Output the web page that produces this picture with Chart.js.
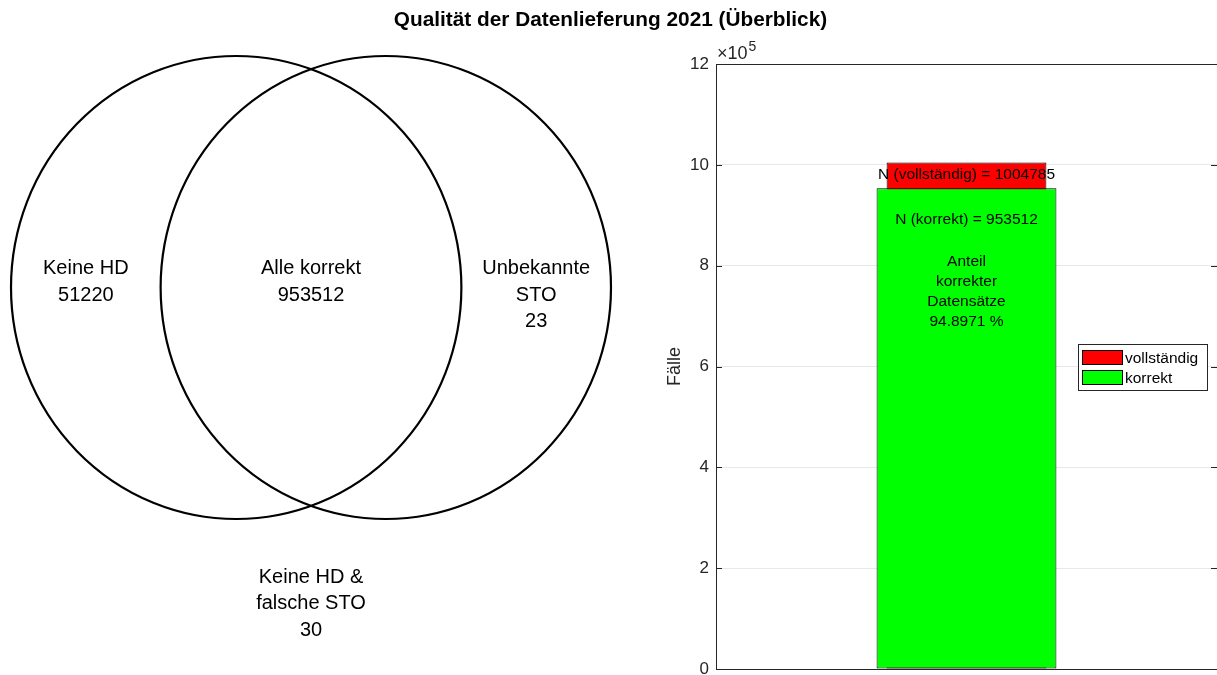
<!DOCTYPE html>
<html>
<head>
<meta charset="utf-8">
<script src="https://cdn.jsdelivr.net/npm/chart.js@4.4.1/dist/chart.umd.min.js"></script>
<style>
  html, body { margin: 0; padding: 0; background: #fff; width: 1217px; height: 675px; overflow: hidden; }
  #title { position: absolute; left: 0; top: 9px; width: 1221px; text-align: center;
           font: bold 20.8px "Liberation Sans", Arial, sans-serif; line-height: 20px; color: #000; }
  #venn { position: absolute; left: 0; top: 0; }
  #bars { position: absolute; left: 620px; top: 0; }
</style>
</head>
<body>
<canvas id="venn" width="622" height="675"></canvas>
<canvas id="bars" width="597" height="675"></canvas>
<div id="title">Qualität der Datenlieferung 2021 (Überblick)</div>
<script>
// ---- data ----
const vennRegions = ['Keine HD', 'Alle korrekt', 'Unbekannte\nSTO', 'Keine HD &\nfalsche STO'];
const vennCounts = [51220, 953512, 23, 30];

const barCategories = [''];
const seriesNames = ['vollständig', 'korrekt'];
const nVollstaendig = [1004785];
const nKorrekt = [953512];
const yTickValues = [0, 200000, 400000, 600000, 800000, 1000000, 1200000];
const yExponent = 5;

// ---- layout of the Venn panel (data units of its own axes) ----
const vennCircles = [
  { cx: -0.3322, cy: 0, r: 1 },
  { cx: 0.3322, cy: 0, r: 1 }
];
const vennLabelAnchors = [[-1.0, 0.058], [0, 0.058], [1.0, 0.058], [0, -1.2765]];

const FONT = '"Liberation Sans", Arial, Helvetica, sans-serif';
const AXIS_COLOR = '#262626';

// Draws both circles and the region labels through the panel's scales
const vennPlugin = {
  id: 'vennDraw',
  afterDraw(chart) {
    const { ctx, scales: { x, y } } = chart;
    ctx.save();
    ctx.lineWidth = 2.2;
    ctx.strokeStyle = '#000';
    vennCircles.forEach(c => {
      const px = x.getPixelForValue(c.cx);
      const py = y.getPixelForValue(c.cy);
      const rx = x.getPixelForValue(c.cx + c.r) - px;
      const ry = py - y.getPixelForValue(c.cy + c.r);
      ctx.beginPath();
      ctx.ellipse(px, py, rx, ry, 0, 0, Math.PI * 2);
      ctx.stroke();
    });
    ctx.fillStyle = '#000';
    ctx.font = '20px ' + FONT;
    ctx.textAlign = 'center';
    ctx.textBaseline = 'alphabetic';
    vennRegions.forEach((name, i) => {
      const lines = name.split('\n').concat(String(vennCounts[i]));
      const [ax, ay] = vennLabelAnchors[i];
      const px = x.getPixelForValue(ax);
      const py = y.getPixelForValue(ay);
      lines.forEach((t, k) => ctx.fillText(t, px, py + k * 26.5));
    });
    ctx.restore();
  }
};

new Chart(document.getElementById('venn'), {
  type: 'scatter',
  data: { datasets: [] },
  options: {
    responsive: false,
    animation: false,
    layout: { padding: 0 },
    plugins: { legend: { display: false }, tooltip: { enabled: false } },
    scales: {
      x: { type: 'linear', min: -1.3811, max: 1.3811, display: false },
      y: { type: 'linear', min: -1.674, max: 1.242, display: false }
    }
  },
  plugins: [vennPlugin]
});

// Box, inward tick marks, exponent, axis title, bar annotations and legend
const barDecor = {
  id: 'barDecor',
  afterDraw(chart) {
    const { ctx, chartArea: a, scales: { y } } = chart;
    ctx.save();
    ctx.strokeStyle = AXIS_COLOR;
    ctx.lineWidth = 1;
    // top border
    ctx.beginPath();
    ctx.moveTo(a.left, Math.round(a.top) + 0.5);
    ctx.lineTo(a.right, Math.round(a.top) + 0.5);
    ctx.stroke();
    // tick marks on both sides, pointing inwards
    yTickValues.forEach(v => {
      const py = Math.round(y.getPixelForValue(v)) + 0.5;
      ctx.beginPath();
      ctx.moveTo(a.left, py); ctx.lineTo(a.left + 6, py);
      ctx.moveTo(a.right - 6, py); ctx.lineTo(a.right, py);
      ctx.stroke();
    });
    // exponent label
    ctx.fillStyle = AXIS_COLOR;
    ctx.textBaseline = 'alphabetic';
    ctx.textAlign = 'left';
    ctx.font = '18px ' + FONT;
    const base = '\u00d710';
    ctx.fillText(base, a.left + 1, a.top - 5);
    const w = ctx.measureText(base).width;
    ctx.font = '14px ' + FONT;
    ctx.fillText(String(yExponent), a.left + 2 + w, a.top - 13);
    // y-axis title
    ctx.save();
    ctx.translate(a.left - 41, (a.top + a.bottom) / 2);
    ctx.rotate(-Math.PI / 2);
    ctx.textAlign = 'center';
    ctx.textBaseline = 'middle';
    ctx.font = '18px ' + FONT;
    ctx.fillText('Fälle', 0, 0);
    ctx.restore();

    // annotations on the bars
    const full = chart.getDatasetMeta(0).data[0];
    const ok = chart.getDatasetMeta(1).data[0];
    ctx.fillStyle = '#000';
    ctx.textAlign = 'center';
    ctx.font = '15.5px ' + FONT;
    ctx.fillText('N (' + seriesNames[0] + ') = ' + nVollstaendig[0], full.x, full.y + 16.7);
    ctx.fillText('N (' + seriesNames[1] + ') = ' + nKorrekt[0], ok.x, ok.y + 35.6);
    const pct = (nKorrekt[0] / nVollstaendig[0] * 100).toFixed(4);
    ['Anteil', 'korrekter', 'Datensätze', pct + ' %'].forEach((t, k) => {
      ctx.fillText(t, ok.x, ok.y + 77.6 + k * 19.9);
    });

    // legend
    const lx = a.right - 139, ly = Math.round((a.top + a.bottom) / 2) - 23;
    ctx.fillStyle = '#fff';
    ctx.fillRect(lx, ly, 129, 46);
    ctx.strokeStyle = AXIS_COLOR;
    ctx.strokeRect(lx + 0.5, ly + 0.5, 129, 46);
    chart.data.datasets.forEach((ds, i) => {
      const sy = ly + 6 + i * 20;
      ctx.fillStyle = ds.backgroundColor;
      ctx.fillRect(lx + 4, sy, 40, 14);
      ctx.strokeStyle = '#000';
      ctx.strokeRect(lx + 4.5, sy + 0.5, 40, 14);
      ctx.fillStyle = '#000';
      ctx.textAlign = 'left';
      ctx.font = '15.5px ' + FONT;
      ctx.fillText(ds.label, lx + 47, sy + 13);
    });
    ctx.restore();
  }
};

new Chart(document.getElementById('bars'), {
  type: 'bar',
  data: {
    labels: barCategories,
    datasets: [
      { label: seriesNames[0], data: nVollstaendig, backgroundColor: '#ff0000', borderColor: '#000',
        borderWidth: 1, borderSkipped: false, grouped: false, categoryPercentage: 1, barPercentage: 0.319, order: 1 },
      { label: seriesNames[1], data: nKorrekt, backgroundColor: '#00ff00', borderColor: '#000',
        borderWidth: 1, borderSkipped: false, grouped: false, categoryPercentage: 1, barPercentage: 0.359, order: 0 }
    ]
  },
  options: {
    responsive: false,
    animation: false,
    layout: { padding: { top: 64, bottom: 6, left: 0, right: 0 } },
    plugins: { legend: { display: false }, tooltip: { enabled: false } },
    scales: {
      x: {
        grid: { display: false },
        ticks: { display: false },
        border: { display: true, color: AXIS_COLOR, width: 1 },
        afterFit(s) { s.height = 0; s.paddingLeft = 0; s.paddingRight = 0; }
      },
      y: {
        min: 0,
        max: 1200000,
        afterBuildTicks(s) { s.ticks = yTickValues.map(v => ({ value: v })); },
        ticks: {
          callback: v => v / Math.pow(10, yExponent),
          color: AXIS_COLOR,
          font: { family: FONT, size: 17 },
          padding: 7
        },
        grid: { color: '#e8e8e8', drawTicks: false },
        border: { display: true, color: AXIS_COLOR, width: 1 },
        afterFit(s) { s.width = 96; s.paddingTop = 0; s.paddingBottom = 0; }
      }
    }
  },
  plugins: [barDecor]
});
</script>
</body>
</html>
